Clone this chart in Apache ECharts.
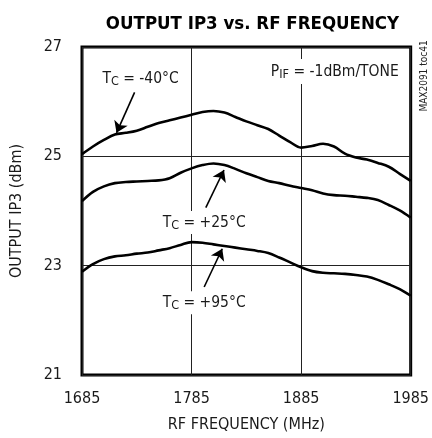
<!DOCTYPE html>
<html>
<head>
<meta charset="utf-8">
<script src="https://cdn.jsdelivr.net/npm/echarts@6/dist/echarts.min.js"></script>
<style>
html,body{margin:0;padding:0;background:#fff;}
#main{width:432px;height:438px;}
</style>
</head>
<body>
<div id="main"></div>
<script>
// RF frequency (MHz), one point every 10 MHz
var freq = [1685,1695,1705,1715,1725,1735,1745,1755,1765,1775,1785,1795,1805,1815,1825,1835,
  1845,1855,1865,1875,1885,1895,1905,1915,1925,1935,1945,1955,1965,1975,1985];
// output IP3 (dBm) per case temperature
var ip3M40 = [25.04,25.18,25.30,25.40,25.43,25.47,25.54,25.61,25.66,25.71,25.76,25.81,25.83,25.80,25.72,25.64,
  25.57,25.50,25.38,25.26,25.16,25.19,25.23,25.18,25.05,24.98,24.94,24.88,24.81,24.68,24.55];
var ip3P25 = [24.18,24.35,24.45,24.51,24.53,24.54,24.55,24.56,24.60,24.70,24.78,24.84,24.87,24.84,24.77,24.69,
  24.62,24.55,24.51,24.46,24.42,24.38,24.32,24.29,24.28,24.26,24.24,24.20,24.11,24.01,23.88];
var ip3P95 = [22.89,23.03,23.12,23.17,23.19,23.22,23.24,23.28,23.32,23.38,23.43,23.42,23.39,23.36,23.33,23.30,
  23.27,23.23,23.15,23.06,22.97,22.90,22.87,22.86,22.85,22.83,22.80,22.74,22.66,22.57,22.45];
var xTicks = [1685, 1785, 1885, 1985];
var yTicks = [21, 23, 25, 27];

var FONT = "'DejaVu Sans Condensed','Liberation Sans',sans-serif";

function pairs(ys) {
  return freq.map(function (f, i) { return [f, ys[i]]; });
}

var richT = {
  a: {fontFamily: FONT, fontSize: 15.5, color: '#1a1a1a'},
  s: {fontFamily: FONT, fontSize: 12.5, color: '#1a1a1a', padding: [6, 0, 0, 0]}
};

function tLabel(txt, at) {
  return {
    coord: at, symbolSize: 0,
    label: {
      show: true, position: 'inside', formatter: '{a|T}{s|C}{a| = ' + txt + '}',
      backgroundColor: '#fff', padding: [2, 3, 2, 3], rich: richT
    }
  };
}

function arrow(from, to) {
  return [{coord: from}, {coord: to}];
}

function curve(ys, lab, at, from, to) {
  return {
    type: 'line', data: pairs(ys), smooth: 0.35, showSymbol: false, symbol: 'none',
    lineStyle: {color: '#000', width: 2.6}, silent: true, z: 3,
    markLine: {
      silent: true, symbol: ['none', 'arrow'], symbolSize: 11,
      lineStyle: {color: '#000', width: 1.6, type: 'solid'},
      label: {show: false},
      data: [arrow(from, to)]
    },
    markPoint: {
      silent: true, symbol: 'rect', z: 5,
      data: [tLabel(lab, at)]
    }
  };
}

var option = {
  animation: false,
  title: {
    text: 'OUTPUT IP3 vs. RF FREQUENCY', left: 247.5, top: 10, textAlign: 'center',
    textStyle: {fontFamily: FONT, fontWeight: 'bold', fontSize: 18.5, color: '#000'}
  },
  grid: {left: 82, right: 19, top: 47, bottom: 59, show: true, borderColor: '#000', borderWidth: 3},
  xAxis: {
    type: 'value', min: xTicks[0], max: xTicks[xTicks.length - 1], interval: 100,
    name: 'RF FREQUENCY (MHz)', nameLocation: 'middle', nameGap: 42,
    nameTextStyle: {fontFamily: FONT, fontSize: 16, color: '#1a1a1a'},
    axisLine: {show: false}, axisTick: {show: false},
    axisLabel: {fontFamily: FONT, fontSize: 16, color: '#1a1a1a', margin: 16,
      formatter: function (v) { return String(v); }},
    splitLine: {show: true, lineStyle: {color: '#222', width: 1}}
  },
  yAxis: {
    type: 'value', min: yTicks[0], max: yTicks[yTicks.length - 1], interval: 2,
    name: 'OUTPUT IP3 (dBm)', nameLocation: 'middle', nameGap: 57,
    nameTextStyle: {fontFamily: FONT, fontSize: 16, color: '#1a1a1a'},
    axisLine: {show: false}, axisTick: {show: false},
    axisLabel: {fontFamily: FONT, fontSize: 16, color: '#1a1a1a', margin: 20},
    splitLine: {show: true, lineStyle: {color: '#222', width: 1}}
  },
  graphic: [{
    type: 'text', x: 424, y: 76, rotation: Math.PI / 2,
    style: {text: 'MAX2091 toc41', fontFamily: FONT, fontSize: 10, fill: '#222', align: 'center', verticalAlign: 'middle'}
  }],
  series: [
    curve(ip3M40, '-40°C', [1738.5, 26.42], [1733, 26.17], [1716.5, 25.43]),
    curve(ip3P25, '+25°C', [1796.5, 23.79], [1798, 24.06], [1814.6, 24.75]),
    curve(ip3P95, '+95°C', [1796.5, 22.32], [1796.5, 22.61], [1813, 23.31]),
    {
      type: 'scatter', data: [], silent: true,
      markPoint: {
        silent: true, symbol: 'rect', symbolSize: 0, z: 5,
        data: [{
          coord: [1976, 26.55],
          label: {
            show: true, position: 'left', distance: 0,
            formatter: '{a|P}{s|IF}{a| = -1dBm/TONE}',
            backgroundColor: '#fff', padding: [3, 2, 3, 2], rich: richT
          }
        }]
      }
    }
  ]
};

var myChart = echarts.init(document.getElementById('main'));
myChart.setOption(option);
</script>
</body>
</html>
